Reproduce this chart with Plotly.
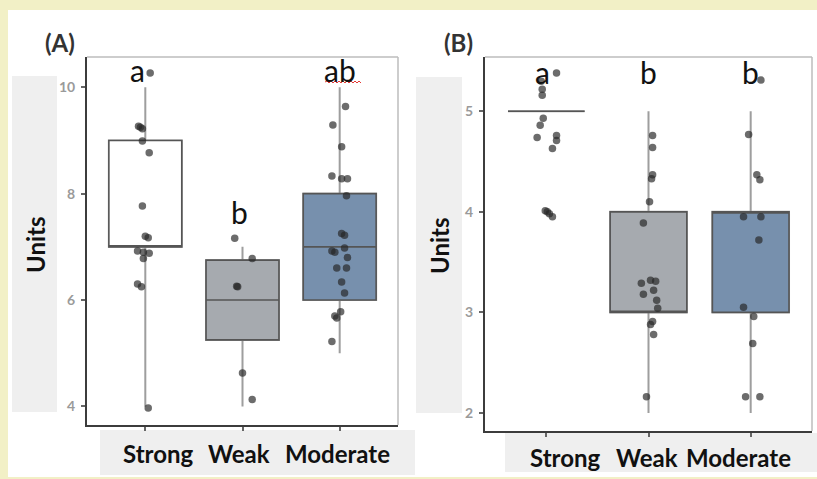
import numpy as np
import plotly.graph_objects as go

W, H = 817, 479

# ---------------- data ----------------
categories = ["Strong", "Weak", "Moderate"]

# Panel A box statistics (q1, median, q3, lower whisker, upper whisker)
a_q1 = [7.0, 5.25, 6.0]
a_med = [7.0, 6.0, 7.0]
a_q3 = [9.0, 6.75, 8.0]
a_lo = [4.0, 4.0, 5.0]
a_hi = [10.0, 7.0, 10.0]

# Panel B box statistics
b_q1 = [5.0, 3.0, 3.0]
b_med = [5.0, 3.0, 4.0]
b_q3 = [5.0, 4.0, 4.0]
b_lo = [5.0, 2.0, 2.0]
b_hi = [5.0, 5.0, 5.0]

# Panel A observations (values and horizontal jitter offsets, category units)
a_strong_y = [10.27, 9.27, 9.25, 9.22, 8.99, 8.77, 7.77, 7.2, 7.17, 6.92, 6.9, 6.88, 6.78, 6.3, 6.25, 3.97]
a_strong_j = [0.05, -0.07, -0.05, -0.03, -0.03, 0.04, -0.03, 0.0, 0.03, -0.08, -0.02, 0.04, -0.02, -0.08, -0.04, 0.03]
a_weak_y = [7.16, 6.78, 6.26, 6.25, 4.63, 4.13]
a_weak_j = [-0.08, 0.1, -0.06, -0.05, 0.0, 0.1]
a_mod_y = [9.64, 9.29, 8.88, 8.33, 8.28, 8.28, 7.96, 7.25, 7.22, 6.98, 6.92, 6.9, 6.8,
           6.6, 6.6, 6.34, 6.13, 5.78, 5.7, 5.66, 5.22]
a_mod_j = [0.06, -0.07, 0.02, -0.08, 0.02, 0.08, 0.07, 0.02, 0.05, 0.05, -0.08, -0.05, 0.08,
           -0.03, 0.07, 0.02, 0.05, 0.01, -0.05, -0.03, -0.08]

# Panel B observations
b_strong_y = [5.38, 5.3, 5.22, 5.16, 4.93, 4.86, 4.76, 4.74, 4.71, 4.63, 4.01, 4.0, 3.98, 3.95]
b_strong_j = [0.1, -0.05, -0.04, -0.04, -0.03, -0.06, 0.1, -0.09, 0.1, 0.06, -0.01, 0.01, 0.03, 0.06]
b_weak_y = [4.76, 4.64, 4.37, 4.33, 4.1, 3.89, 3.32, 3.31, 3.29, 3.22, 3.18, 3.12, 3.04,
            2.91, 2.88, 2.78, 2.16]
b_weak_j = [0.04, 0.04, 0.04, 0.03, 0.01, -0.05, 0.02, 0.07, -0.07, 0.05, -0.05, 0.08, 0.09,
            0.04, 0.02, 0.05, -0.02]
b_mod_y = [5.31, 4.77, 4.37, 4.32, 3.95, 3.95, 3.72, 3.05, 2.96, 2.69, 2.16, 2.16]
b_mod_j = [0.1, -0.02, 0.06, 0.09, -0.07, 0.1, 0.08, -0.07, 0.03, 0.02, -0.05, 0.09]

# significance letters
a_letters = ["a", "b", "ab"]
a_letter_y = [10.32, 7.66, 10.32]
b_letters = ["a", "b", "b"]
b_letter_y = [5.39, 5.39, 5.39]

a_ticks = [4, 6, 8, 10]
b_ticks = [2, 3, 4, 5]

# ---------------- style ----------------
fills = ["#ffffff", "#a6aaaf", "#7790ad"]
box_line = "#555555"
whisker_col = "#9e9e9e"
pt_col = "rgba(38,38,38,0.68)"
label_grey = "#efefef"
FONT = "Lato"


def px(x):
    return x / W


def py(y):
    return 1 - y / H


fig = go.Figure()


def add_panel(xa, ya, q1, med, q3, lo, hi, groups):
    for i in range(3):
        # whiskers (light grey)
        fig.add_trace(go.Box(
            x=[i], q1=[q1[i]], median=[med[i]], q3=[q3[i]],
            lowerfence=[lo[i]], upperfence=[hi[i]],
            width=0.75, whiskerwidth=0, boxpoints=False,
            line=dict(color=whisker_col, width=2), fillcolor="rgba(0,0,0,0)",
            xaxis=xa, yaxis=ya, showlegend=False, hoverinfo="skip"))
        # box body
        fig.add_trace(go.Box(
            x=[i], q1=[q1[i]], median=[med[i]], q3=[q3[i]],
            lowerfence=[q1[i]], upperfence=[q3[i]],
            width=0.75, whiskerwidth=0, boxpoints=False,
            line=dict(color=box_line, width=1.6), fillcolor=fills[i],
            xaxis=xa, yaxis=ya, showlegend=False))
    for i, (vals, jit) in enumerate(groups):
        xs = i + np.array(jit)
        fig.add_trace(go.Scatter(
            x=xs, y=vals, mode="markers",
            marker=dict(size=7.5, color=pt_col, line=dict(width=0)),
            xaxis=xa, yaxis=ya, showlegend=False))


add_panel("x", "y", a_q1, a_med, a_q3, a_lo, a_hi,
          [(a_strong_y, a_strong_j), (a_weak_y, a_weak_j), (a_mod_y, a_mod_j)])
add_panel("x2", "y2", b_q1, b_med, b_q3, b_lo, b_hi,
          [(b_strong_y, b_strong_j), (b_weak_y, b_weak_j), (b_mod_y, b_mod_j)])

common_x = dict(range=[-0.6, 2.6], tickvals=[0, 1, 2], ticktext=categories,
                showticklabels=False, showline=True, linecolor="#3c3c3c", linewidth=2,
                ticks="outside", ticklen=4, tickcolor="#666666", tickwidth=1.5,
                showgrid=False, zeroline=False, fixedrange=True)
common_y = dict(showline=True, linecolor="#3c3c3c", linewidth=2,
                ticks="outside", ticklen=4, tickcolor="#666666", tickwidth=1.5,
                tickfont=dict(family=FONT, size=14, color="#9a9a9a", weight="bold"),
                ticklabelstandoff=3,
                showgrid=False, zeroline=False, fixedrange=True)

fig.update_layout(
    width=W, height=H, margin=dict(l=0, r=0, t=0, b=0),
    paper_bgcolor="#f2f0c6", plot_bgcolor="#ffffff",
    boxmode="overlay",
    xaxis=dict(domain=[px(87), px(398)], anchor="y", **common_x),
    yaxis=dict(domain=[py(425), py(57)], anchor="x", range=[3.65, 10.57],
               tickvals=a_ticks, **common_y),
    xaxis2=dict(domain=[px(485), px(812)], anchor="y2", **common_x),
    yaxis2=dict(domain=[py(431), py(57)], anchor="x2", range=[1.82, 5.54],
                tickvals=b_ticks, **common_y),
)

shapes = []
# white card
shapes.append(dict(type="rect", xref="paper", yref="paper", x0=px(8), x1=1.0,
                   y0=py(477), y1=py(10), fillcolor="#ffffff", line=dict(width=0), layer="below"))
# grey label boxes
for (x0, x1, y0, y1) in [(12, 57, 76, 412), (416, 462, 77, 413),
                         (100, 415, 430, 475), (505, 817, 433, 472)]:
    shapes.append(dict(type="rect", xref="paper", yref="paper", x0=px(x0), x1=px(x1),
                       y0=py(y1), y1=py(y0), fillcolor=label_grey, line=dict(width=0),
                       layer="below"))
# light top/right frame
for xr, yr in [("x domain", "y domain"), ("x2 domain", "y2 domain")]:
    shapes.append(dict(type="line", xref=xr, yref=yr, x0=0, x1=1, y0=1, y1=1,
                       line=dict(color="#bdbdbd", width=1.5), layer="above"))
    shapes.append(dict(type="line", xref=xr, yref=yr, x0=1, x1=1, y0=0, y1=1,
                       line=dict(color="#bdbdbd", width=1.5), layer="above"))
# red spell-check squiggle under "ab"
sq = "M {} {}".format(px(325), py(82))
xx = 325
up = True
while xx < 360:
    xx += 2
    sq += " L {} {}".format(px(xx), py(81 if up else 83))
    up = not up
shapes.append(dict(type="path", xref="paper", yref="paper", path=sq,
                   line=dict(color="#e53935", width=1)))
fig.update_layout(shapes=shapes)

C = dict(xanchor="center", yanchor="middle", showarrow=False)
ann = []
# panel tags
ann.append(dict(text="(A)", x=px(60), y=py(43), xref="paper", yref="paper", **C,
                font=dict(family=FONT, size=24, color="#333333", weight="bold")))
ann.append(dict(text="(B)", x=px(459), y=py(43), xref="paper", yref="paper", **C,
                font=dict(family=FONT, size=24, color="#333333", weight="bold")))
# y titles
for xc in (35, 439):
    ann.append(dict(text="Units", x=px(xc), y=py(245), xref="paper", yref="paper",
                    textangle=-90, **C,
                    font=dict(family=FONT, size=24, color="#111111", weight="bold")))
# category labels
a_shift = [13, -4, -2]
b_shift = [19, -2, -12]
for i, c in enumerate(categories):
    ann.append(dict(text=c, x=i, xref="x", y=py(453), yref="paper", xshift=a_shift[i], **C,
                    font=dict(family=FONT, size=24, color="#111111", weight="bold")))
    ann.append(dict(text=c, x=i, xref="x2", y=py(457), yref="paper", xshift=b_shift[i], **C,
                    font=dict(family=FONT, size=24, color="#111111", weight="bold")))
# letters
a_lshift = [-8, -3, 0]
b_lshift = [-4, 0, 0]
for i in range(3):
    ann.append(dict(text=a_letters[i], x=i, xref="x", y=a_letter_y[i], yref="y",
                    xshift=a_lshift[i], **C,
                    font=dict(family=FONT, size=30, color="#111111")))
    ann.append(dict(text=b_letters[i], x=i, xref="x2", y=b_letter_y[i], yref="y2",
                    xshift=b_lshift[i], **C,
                    font=dict(family=FONT, size=30, color="#111111")))
fig.update_layout(annotations=ann)

fig.write_html("out.html", config={"displayModeBar": False},
               post_script="document.body.style.margin='0px';")
